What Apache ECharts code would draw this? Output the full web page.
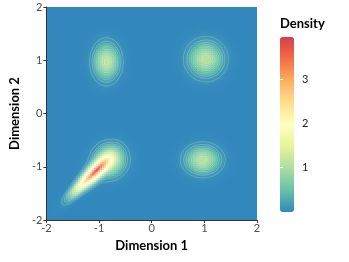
<!DOCTYPE html>
<html><head><meta charset="utf-8">
<script src="https://cdn.jsdelivr.net/npm/echarts@6/dist/echarts.min.js"></script>
<style>html,body{margin:0;padding:0;background:#fff}#c{width:349px;height:262px}</style>
</head><body><div id="c"></div>
<script>
// ---- data ----
const xTicks = [-2, -1, 0, 1, 2];
const yTicks = [-2, -1, 0, 1, 2];
const legendTicks = [1, 2, 3];
const densityMin = 0;
const densityMax = 3.95;
// density blobs (mixture components): centre, spread along/across main axis, angle, peak height
const compName  = ['top-left', 'top-right', 'bottom-right', 'bottom-left core', 'bottom-left head', 'bottom-left tail'];
const compCx    = [-0.86, 1.03, 0.97, -1.06, -0.80, -1.36];
const compCy    = [0.97, 1.02, -0.87, -1.08, -0.88, -1.37];
const compSu    = [0.145, 0.195, 0.195, 0.22, 0.18, 0.21];
const compSv    = [0.205, 0.195, 0.155, 0.08, 0.17, 0.06];
const compAngle = [0, 0, 0, 45, 45, 45];
const compPeak  = [1.15, 1.1, 1.1, 3.3, 1.3, 1.3];
const contourLevels = [0.1,0.2,0.3,0.4,0.5,0.6,0.7,0.8,0.9,1.0,1.1,1.2,1.3,1.4,1.5,1.6,1.7,1.8,1.9,2.0,
  2.1,2.2,2.3,2.4,2.5,2.6,2.7,2.8,2.9,3.0,3.1,3.2,3.3,3.4,3.5,3.6,3.7,3.8];
const palette = ['#3288bd','#66c2a5','#abdda4','#e6f598','#ffffbf','#fee08b','#fdae61','#f46d43','#d53e4f'];

// ---- build grid ----
function density(x, y) {
  let s = 0;
  for (let k = 0; k < compCx.length; k++) {
    const a = compAngle[k] * Math.PI / 180;
    const dx = x - compCx[k], dy = y - compCy[k];
    const u = dx * Math.cos(a) + dy * Math.sin(a);
    const v = -dx * Math.sin(a) + dy * Math.cos(a);
    s += compPeak[k] * Math.exp(-0.5 * (u * u / (compSu[k] * compSu[k]) + v * v / (compSv[k] * compSv[k])));
  }
  return s;
}
const N = 106, lo = -2, hi = 2, step = (hi - lo) / N, half = step / 2;
const centers = [];
for (let i = 0; i < N; i++) centers.push(lo + (i + 0.5) * step);
const grid = [];
const cells = [];
for (let j = 0; j < N; j++) {
  const row = [];
  for (let i = 0; i < N; i++) {
    const v = density(centers[i], centers[j]);
    row.push(v);
    cells.push([centers[i], centers[j], v]);
  }
  grid.push(row);
}
// marching squares
function interp(x1, y1, v1, x2, y2, v2, L) {
  const t = (L - v1) / (v2 - v1);
  return [x1 + t * (x2 - x1), y1 + t * (y2 - y1)];
}
const contourSegs = contourLevels.map(function (L) {
  const segs = [];
  for (let j = 0; j < N - 1; j++) {
    for (let i = 0; i < N - 1; i++) {
      const x0 = centers[i], x1 = centers[i + 1], y0 = centers[j], y1 = centers[j + 1];
      const a = grid[j][i], b = grid[j][i + 1], c = grid[j + 1][i + 1], d = grid[j + 1][i];
      const pts = [];
      if ((a >= L) !== (b >= L)) pts.push(interp(x0, y0, a, x1, y0, b, L));
      if ((b >= L) !== (c >= L)) pts.push(interp(x1, y0, b, x1, y1, c, L));
      if ((c >= L) !== (d >= L)) pts.push(interp(x1, y1, c, x0, y1, d, L));
      if ((d >= L) !== (a >= L)) pts.push(interp(x0, y1, d, x0, y0, a, L));
      if (pts.length === 2) segs.push([pts[0][0], pts[0][1], pts[1][0], pts[1][1]]);
      else if (pts.length === 4) {
        segs.push([pts[0][0], pts[0][1], pts[1][0], pts[1][1]]);
        segs.push([pts[2][0], pts[2][1], pts[3][0], pts[3][1]]);
      }
    }
  }
  return segs;
});
const contourData = contourLevels.map(function (L, k) { return [0, 0, k]; });

const FONT = 'Lato, "Noto Sans", sans-serif';
const chart = echarts.init(document.getElementById('c'), null, { renderer: 'canvas' });
chart.setOption({
  animation: false,
  backgroundColor: '#ffffff',
  textStyle: { fontFamily: FONT },
  grid: [
    { left: 45, right: 92, top: 7, bottom: 42 },
    { left: 280, top: 37, width: 14, height: 175 }
  ],
  xAxis: [
    {
      type: 'value', gridIndex: 0, min: -2, max: 2, interval: 1, z: 10,
      axisLine: { show: true, onZero: false, lineStyle: { color: '#333', width: 1 } },
      axisTick: { show: true, length: 3, lineStyle: { color: '#333' }, customValues: xTicks },
      axisLabel: { color: '#4d4d4d', fontSize: 11, margin: 3, fontFamily: FONT, customValues: xTicks },
      splitLine: { show: false },
      name: 'Dimension 1', nameLocation: 'middle', nameGap: 19,
      nameTextStyle: { fontWeight: 'bold', fontSize: 13, color: '#000', fontFamily: FONT }
    },
    { type: 'value', gridIndex: 1, show: false, min: 0, max: 1 }
  ],
  yAxis: [
    {
      type: 'value', gridIndex: 0, min: -2, max: 2, interval: 1, z: 10,
      axisLine: { show: true, onZero: false, lineStyle: { color: '#333', width: 1 } },
      axisTick: { show: true, length: 3, lineStyle: { color: '#333' }, customValues: yTicks },
      axisLabel: { color: '#4d4d4d', fontSize: 11, margin: 4, fontFamily: FONT, customValues: yTicks },
      splitLine: { show: false },
      name: 'Dimension 2', nameLocation: 'middle', nameGap: 21,
      nameTextStyle: { fontWeight: 'bold', fontSize: 13, color: '#000', fontFamily: FONT }
    },
    {
      type: 'value', gridIndex: 1, position: 'right', min: densityMin, max: densityMax, z: 10,
      axisLine: { show: false },
      axisTick: { show: true, inside: true, length: 3, lineStyle: { color: '#ffffff', width: 1 }, customValues: legendTicks },
      axisLabel: { show: true, color: '#222', fontSize: 11, margin: 8, fontFamily: FONT, customValues: legendTicks },
      splitLine: { show: false }
    },
    {
      type: 'value', gridIndex: 1, position: 'left', min: densityMin, max: densityMax, z: 10,
      axisLine: { show: false },
      axisTick: { show: true, inside: true, length: 3, lineStyle: { color: '#ffffff', width: 1 }, customValues: legendTicks },
      axisLabel: { show: false },
      splitLine: { show: false },
      name: 'Density', nameLocation: 'end', nameGap: 13,
      nameTextStyle: { align: 'left', verticalAlign: 'middle', fontWeight: 'bold', fontSize: 13, color: '#000', fontFamily: FONT }
    }
  ],
  visualMap: {
    type: 'continuous', min: densityMin, max: densityMax, seriesIndex: 0, dimension: 2,
    calculable: false, hoverLink: false, orient: 'vertical',
    left: 280, top: 37, itemWidth: 14, itemHeight: 175, padding: 0,
    inRange: { color: palette }
  },
  series: [
    {
      type: 'custom', xAxisIndex: 0, yAxisIndex: 0, progressive: 0, silent: true,
      encode: { x: 0, y: 1 },
      data: cells,
      renderItem: function (params, api) {
        const x = api.value(0), y = api.value(1);
        const p1 = api.coord([x - half, y + half]);
        const p2 = api.coord([x + half, y - half]);
        const x0 = Math.round(p1[0]), y0 = Math.round(p1[1]);
        return {
          type: 'rect',
          shape: { x: x0, y: y0, width: Math.round(p2[0]) - x0, height: Math.round(p2[1]) - y0 },
          style: { fill: api.visual('color') }
        };
      }
    },
    {
      type: 'custom', xAxisIndex: 0, yAxisIndex: 0, progressive: 0, silent: true, z: 3,
      encode: { x: 0, y: 1 },
      data: contourData,
      renderItem: function (params, api) {
        const segs = contourSegs[api.value(2)];
        let d = '';
        for (let s = 0; s < segs.length; s++) {
          const q1 = api.coord([segs[s][0], segs[s][1]]);
          const q2 = api.coord([segs[s][2], segs[s][3]]);
          d += 'M' + q1[0].toFixed(2) + ' ' + q1[1].toFixed(2) + 'L' + q2[0].toFixed(2) + ' ' + q2[1].toFixed(2);
        }
        return {
          type: 'path',
          shape: { pathData: d },
          style: { fill: 'none', stroke: 'rgba(255,255,255,0.3)', lineWidth: 0.6 }
        };
      }
    }
  ]
});
</script>
</body></html>
